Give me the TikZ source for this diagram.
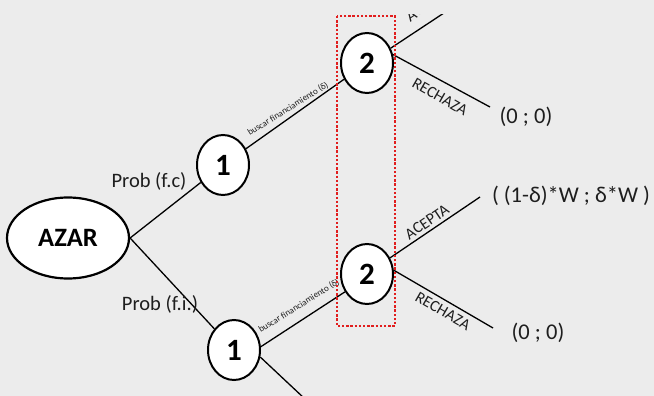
\documentclass[tikz,border=0pt]{standalone}
\usepackage{fontspec}
\setmainfont{Carlito}
\usetikzlibrary{shapes.geometric}
\definecolor{paper}{RGB}{236,236,236}
\definecolor{ink}{RGB}{30,30,30}
\definecolor{markred}{RGB}{225,30,30}
\pgfdeclarelayer{bg}
\pgfdeclarelayer{back}
\pgfsetlayers{bg,back,main}
\tikzset{
  chance/.style={ellipse, draw=black, fill=white, line width=2.2pt, inner sep=0pt,
    minimum width=122pt, minimum height=81pt, font=\fontsize{26.5}{26.5}\selectfont\bfseries},
  player/.style={ellipse, draw=black, fill=white, line width=2pt, inner sep=0pt,
    minimum width=52pt, minimum height=60pt, font=\fontsize{31}{31}\selectfont\bfseries},
  branch/.style={line width=1.3pt, draw=black},
  problabel/.style={font=\fontsize{20.5}{20.5}\selectfont, text=ink, inner sep=0pt},
  actlabel/.style={font=\fontsize{16}{16}\selectfont, text=ink, inner sep=0pt},
  smalllabel/.style={font=\fontsize{9}{9}\selectfont, text=ink, inner sep=0pt},
  payoff/.style={font=\fontsize{22.5}{22.5}\selectfont, text=ink, inner sep=0pt},
  highlight/.style={draw=markred, line width=2.6pt, dash pattern=on 2.4pt off 1.8pt},
}
\begin{document}
\begin{tikzpicture}[x=1pt,y=-1pt]
\begin{pgfonlayer}{bg}
  \fill[paper] (0,0) rectangle (654,396);
\end{pgfonlayer}
\useasboundingbox (0,0) rectangle (654,396);
\begin{scope}
  \clip (0,14.5) rectangle (654,396);
  % decision nodes
  \node[chance] (azar) at (68,238) {AZAR};
  \node[player] (n1a) at (223,165) {1};
  \node[player] (n1b) at (234,350) {1};
  \node[player] (n2a) at (367,63) {2};
  \node[player] (n2b) at (367,274) {2};
  % loose ends of the branches
  \coordinate (endb) at (321,414);
  \coordinate (accA) at (450,9);
  \coordinate (rejA) at (490,107);
  \coordinate (accB) at (480,197);
  \coordinate (rejB) at (493,328);
  % payoffs
  \node[payoff] (payA) at (526,117) {(0 ; 0)};
  \node[payoff] (payB) at (571,196) {( (1-δ)*W ; δ*W )};
  \node[payoff] (payC) at (538,333) {(0 ; 0)};
  \begin{pgfonlayer}{back}
    \clip (0,14.5) rectangle (654,396);
    \draw[branch] (azar.east) -- (n1a);
    \draw[branch] (azar.east) -- (n1b);
    \draw[branch] (n1a) -- (n2a);
    \draw[branch] (n1b.7) -- (n2b.219);
    \draw[branch] (n1b.-15) -- (endb);
    \draw[branch] (n2a.32) -- (accA);
    \draw[branch] (n2a.18) -- (rejA);
    \draw[branch] (n2b.35) -- (accB);
    \draw[branch] (n2b.8) -- (rejB);
    % branch labels
    \node[problabel] (pfc) at (149,181) {Prob (f.c)};
    \node[problabel] (pfi) at (160,304) {Prob (f.i.)};
    \node[smalllabel, rotate=32] (bfa) at (288,109) {buscar financiamiento (δ)};
    \node[smalllabel, rotate=32] (bfb) at (299,306) {buscar financiamiento (δ)};
    \node[actlabel, rotate=34] (aca) at (428,4) {ACEPTA};
    \node[actlabel, rotate=-29.6] (rea) at (440,97) {RECHAZA};
    \node[actlabel, rotate=34] (acb) at (427,222) {ACEPTA};
    \node[actlabel, rotate=-30] (reb) at (443,311) {RECHAZA};
  \end{pgfonlayer}
  % player-2 information set
  \draw[highlight] (337,16) rectangle (395,326);
\end{scope}
\end{tikzpicture}
\end{document}
